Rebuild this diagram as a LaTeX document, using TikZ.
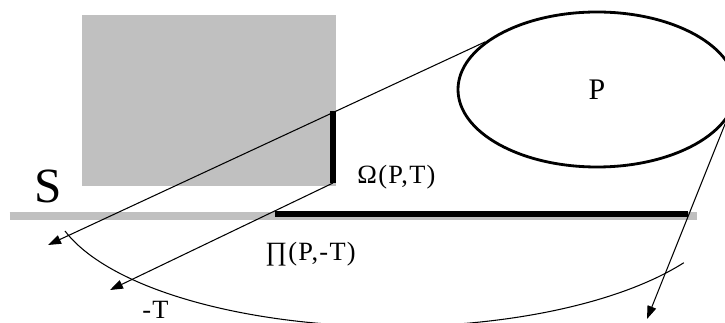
\documentclass[tikz,border=0pt]{standalone}
\usepackage{fontspec}
\setmainfont{Liberation Serif}
\usetikzlibrary{arrows.meta,shapes.geometric}
\definecolor{planegray}{HTML}{C0C0C0}
\tikzset{
  ray/.style={-{Triangle[length=2.6mm, width=1.8mm]}, line width=0.6pt},
  bar/.style={line width=1.2mm},
  lbl/.style={inner sep=0pt, font=\fontsize{15}{18}\selectfont\addfontfeatures{LetterSpace=5}},
  region/.style={ellipse, draw, line width=1.6pt, minimum width=5.56cm, minimum height=3.10cm, inner sep=0pt, font=\fontsize{17}{20}\selectfont},
}

\begin{document}
\begin{tikzpicture}
    \useasboundingbox (0,0) rectangle (14.50,6.44);
    \clip (0,0) rectangle (14.50,6.44);
    % shaded body and plane S
    \fill[planegray] (1.64,2.72) rectangle (6.72,6.14);
    \draw[planegray, line width=0.166cm] (0.19,2.124) -- (13.94,2.124);
    \node[region] (P) at (11.94,4.65) {P};
    \node[inner sep=0pt, font=\fontsize{28}{32}\selectfont] (S) at (0.97,2.72) {S};
    \node[lbl, anchor=base west] (omega) at (7.14,2.774) {Ω(P,T)};
    \node[lbl, anchor=base west] (proj) at (5.30,1.22) {∏(P,-T)};
    \node[lbl, anchor=base west] (negT) at (2.84,0.07) {-T};
    \coordinate (wtop) at (6.66,4.22);
    \coordinate (wbot) at (6.66,2.78);
    \coordinate (hl) at (5.50,2.15);
    \coordinate (hr) at (13.76,2.15);
    \coordinate (tipA) at (0.96,1.54);
    \coordinate (tipB) at (2.20,0.64);
    \coordinate (tipC) at (12.94,0.06);
    \coordinate (arcL) at (1.30,1.82);
    \draw[bar] (wtop) -- (wbot);
    \draw[bar] (hl) -- (hr);
    \draw[ray] (P.157) -- (tipA);
    \draw[ray] (wbot) -- (tipB);
    \draw[ray] (P.-13) -- (tipC);
    \draw[line width=0.6pt] (arcL) arc[start angle=196.7, end angle=328.4, x radius=6.84cm, y radius=2.68cm];
\end{tikzpicture}
\end{document}
